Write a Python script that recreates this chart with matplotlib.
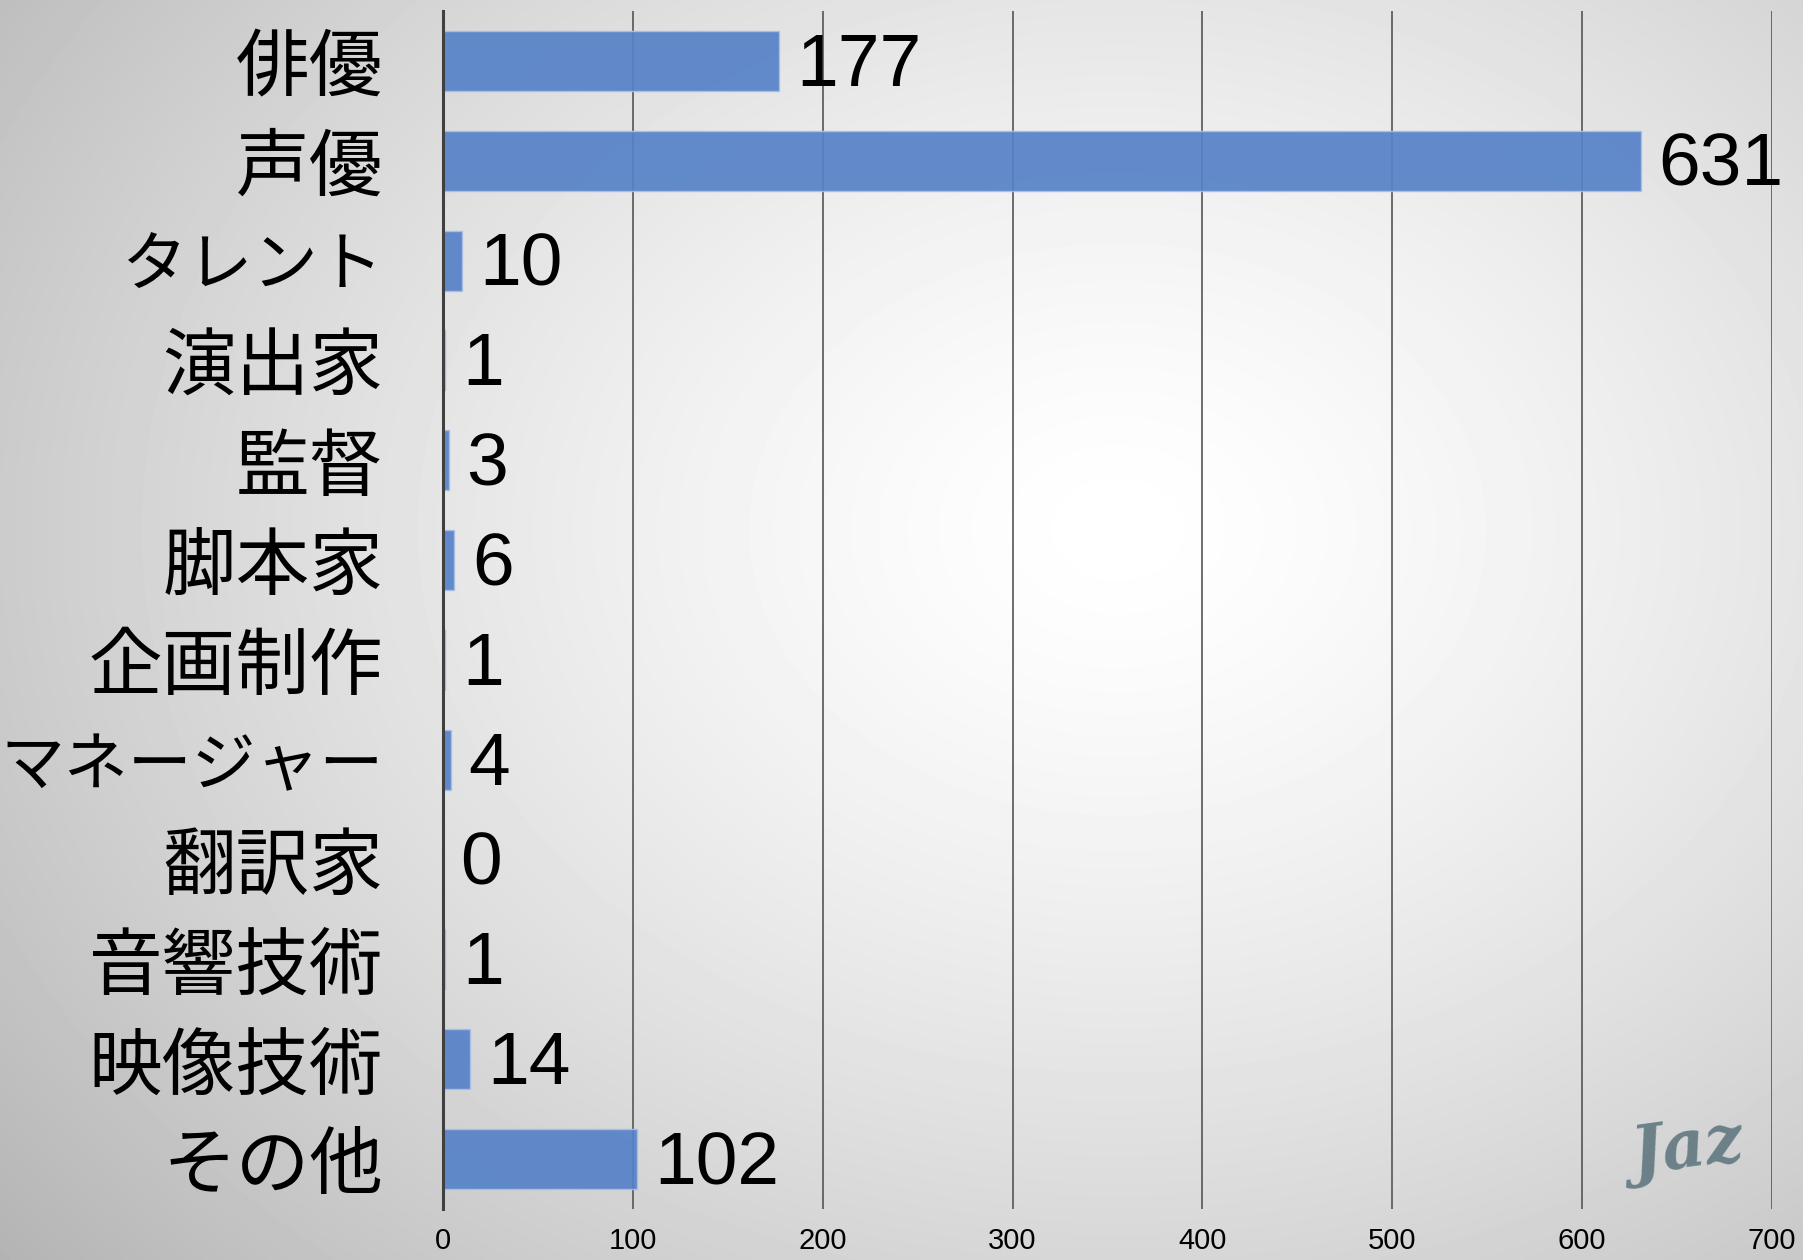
import numpy as np
import matplotlib
matplotlib.use("Agg")
import matplotlib.pyplot as plt

categories = ["俳優", "声優", "タレント", "演出家", "監督", "脚本家", "企画制作",
              "マネージャー", "翻訳家", "音響技術", "映像技術", "その他"]
values = [177, 631, 10, 1, 3, 6, 1, 4, 0, 1, 14, 102]
xticks = [0, 100, 200, 300, 400, 500, 600, 700]

W, H, DPI = 1803, 1260, 100
fig = plt.figure(figsize=(W / DPI, H / DPI), dpi=DPI)

# radial gradient background
bg = fig.add_axes([0, 0, 1, 1], zorder=0)
yy, xx = np.mgrid[0:1:400j, 0:1:570j]
cx, cy = 0.62, 0.42
d = np.sqrt(((xx - cx) / 0.72) ** 2 + ((yy - cy) / 0.8) ** 2)
grad = np.clip(1 - 0.25 * d ** 1.4, 0, 1)
bg.imshow(grad, cmap="gray", vmin=0, vmax=1, extent=[0, 1, 0, 1],
          aspect="auto", origin="upper", interpolation="bilinear")
bg.axis("off")

ax = fig.add_axes([443 / W, 1 - 1209 / H, (1772 - 443) / W, (1209 - 11) / H], zorder=1)
ax.patch.set_alpha(0)

y = np.arange(len(categories))
ax.barh(y, values, height=0.6, color="#5682c8", alpha=0.92,
        edgecolor="#a9bfe6", linewidth=1.0, zorder=2)

ax.set_xlim(0, 700)
ax.set_ylim(len(categories) - 0.5, -0.5)
ax.set_xticks(xticks)
ax.set_xticklabels([str(t) for t in xticks], fontsize=21,
                   family=["Liberation Sans", "DejaVu Sans"])
ax.set_yticks(y)
ax.set_yticklabels(categories)
for lbl, cat in zip(ax.get_yticklabels(), categories):
    lbl.set_family(["Noto Sans CJK JP", "DejaVu Sans"])
    if len(cat) > 4:
        lbl.set_fontsize(46)
    elif cat == "タレント":
        lbl.set_fontsize(47)
    else:
        lbl.set_fontsize(53)

ax.tick_params(axis="x", length=0, pad=13)
ax.tick_params(axis="y", length=0, pad=43)
ax.xaxis.grid(True, color="#555555", linewidth=1.2, zorder=1)
ax.set_axisbelow(True)
for s in ["top", "right", "bottom"]:
    ax.spines[s].set_visible(False)
ax.spines["left"].set_color("#404040")
ax.spines["left"].set_linewidth(2.2)
ax.spines["left"].set_zorder(3)

for i, v in enumerate(values):
    ax.annotate(str(v), xy=(v, i), xytext=(12.5, -4), textcoords="offset points",
                ha="left", va="center", fontsize=54, color="black",
                family=["Liberation Sans", "DejaVu Sans"], zorder=4)

# signature watermark
fig.text(1688 / W, 1 - 1150 / H, "Jaz", fontsize=48, color="#6b8088",
         family="DejaVu Serif", style="italic", weight="bold",
         ha="center", va="center", rotation=8, zorder=5)

fig.savefig("out.png", dpi=DPI)
